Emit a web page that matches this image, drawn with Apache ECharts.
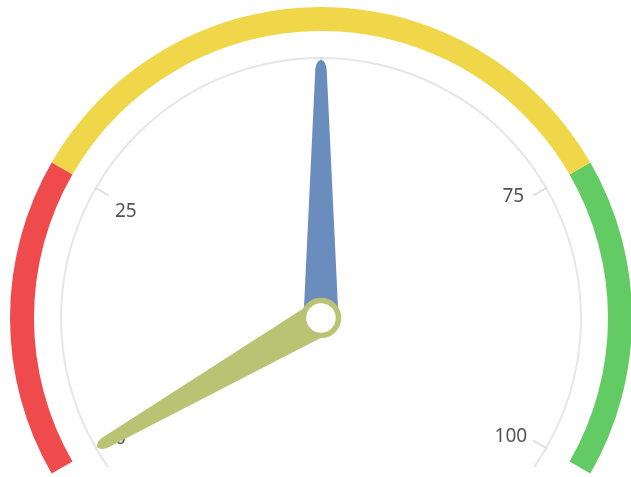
<!DOCTYPE html>
<html>
<head>
<meta charset="utf-8">
<script src="https://cdn.jsdelivr.net/npm/echarts@6/dist/echarts.min.js"></script>
<style>
html,body{margin:0;padding:0;background:#fff;}
#main{width:631px;height:477px;}
</style>
</head>
<body>
<div id="main"></div>
<script>
// Data
var axisMin = 0;
var axisMax = 100;
var tickLabels = ['0', '25', '', '75', '100'];
var bandStops = [0.25, 0.75, 1];
var bandColors = ['#ef4b4c', '#f0d74a', '#63cb63'];
var needleNames = ['A', 'B'];
var needleValues = [50, 0];
var needleColors = ['#6b8dbd', '#bac273'];

var CX = 321, CY = 318;
var needlePath = 'path://M12,5 C12,-1.6 24,-1.6 24,5 L36,100 L0,100 Z';
var labelStyles = ['s0', 's1', 's2', 's3', 's4'];

var chart = echarts.init(document.getElementById('main'));
chart.setOption({
  animation: false,
  backgroundColor: '#ffffff',
  series: [
    {
      type: 'gauge',
      center: [CX, CY],
      radius: 311,
      startAngle: 210,
      endAngle: -30,
      min: axisMin,
      max: axisMax,
      axisLine: {
        lineStyle: {
          width: 24,
          color: bandStops.map(function (s, i) { return [s, bandColors[i]]; })
        }
      },
      axisTick: { show: false },
      splitLine: { show: false },
      axisLabel: { show: false },
      pointer: { show: false },
      anchor: { show: false },
      title: { show: false },
      detail: { show: false },
      data: []
    },
    {
      type: 'gauge',
      center: [CX, CY],
      radius: 261,
      startAngle: 215,
      endAngle: -35,
      min: axisMin,
      max: axisMax,
      axisLine: {
        lineStyle: { width: 2, color: [[1, '#e6e6e6']] }
      },
      axisTick: { show: false },
      splitLine: { show: false },
      axisLabel: { show: false },
      pointer: { show: false },
      anchor: { show: false },
      title: { show: false },
      detail: { show: false },
      data: []
    },
    {
      type: 'gauge',
      center: [CX, CY],
      radius: 261,
      startAngle: 210,
      endAngle: -30,
      min: axisMin,
      max: axisMax,
      splitNumber: tickLabels.length - 1,
      axisLine: { show: false, lineStyle: { width: 2 } },
      axisTick: { show: false },
      splitLine: {
        show: true,
        length: 16,
        distance: -2,
        lineStyle: { color: '#dedede', width: 2 }
      },
      axisLabel: {
        show: true,
        distance: 9,
        color: '#555555',
        fontSize: 19,
        fontFamily: 'Noto Sans',
        rich: {
          s0: { color: '#555555', fontSize: 19, fontFamily: 'Noto Sans', padding: [4, 0, 0, 0] },
          s1: { color: '#555555', fontSize: 19, fontFamily: 'Noto Sans', padding: [26, 0, 0, 0] },
          s2: { color: '#555555', fontSize: 19, fontFamily: 'Noto Sans' },
          s3: { color: '#555555', fontSize: 19, fontFamily: 'Noto Sans', padding: [0, 3, 4, 0] },
          s4: { color: '#555555', fontSize: 19, fontFamily: 'Noto Sans' }
        },
        formatter: function (v) {
          var idx = Math.round((v - axisMin) / (axisMax - axisMin) * (tickLabels.length - 1));
          if (!tickLabels[idx]) return '';
          return '{' + labelStyles[idx] + '|' + tickLabels[idx] + '}';
        }
      },
      pointer: {
        show: true,
        icon: needlePath,
        length: 258,
        width: 35,
        keepAspect: false
      },
      anchor: {
        show: true,
        showAbove: true,
        size: 35,
        itemStyle: { color: '#ffffff', borderColor: '#bac273', borderWidth: 5.5 }
      },
      title: { show: false },
      detail: { show: false },
      data: needleValues.map(function (v, i) {
        return { name: needleNames[i], value: v, itemStyle: { color: needleColors[i] } };
      })
    }
  ]
});
</script>
</body>
</html>
